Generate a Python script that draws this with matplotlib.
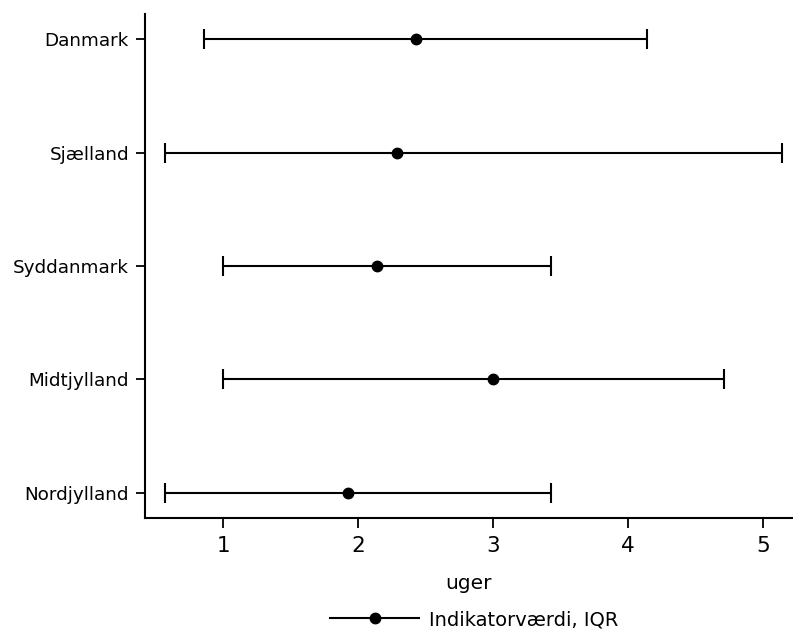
import matplotlib
matplotlib.use("Agg")
import matplotlib.pyplot as plt
from matplotlib.lines import Line2D

# Data (weeks)
regions = ["Danmark", "Sjælland", "Syddanmark", "Midtjylland", "Nordjylland"]
median = [2.43, 2.286, 2.143, 3.0, 1.929]
q1 = [0.857, 0.571, 1.0, 1.0, 0.571]
q3 = [4.143, 5.143, 3.429, 4.714, 3.429]

fig = plt.figure(figsize=(7.93, 6.34), dpi=100)
ax = fig.add_axes([0.1829, 0.1835, 0.816, 0.794])

ypos = list(range(len(regions) - 1, -1, -1))
xerr = [[m - a for m, a in zip(median, q1)], [b - m for m, b in zip(median, q3)]]
ax.errorbar(median, ypos, xerr=xerr, fmt="o", color="black", ecolor="black",
            elinewidth=1.5, capsize=7.5, capthick=1.5, markersize=7.5)

ax.set_yticks(ypos)
ax.set_yticklabels(regions, fontsize=13.2)
ax.set_xticks([1, 2, 3, 4, 5])
ax.tick_params(axis="x", labelsize=15.5, length=7.5, width=1.3, pad=6)
ax.tick_params(axis="y", length=6.5, width=1.3, pad=5)
ax.set_xlim(0.422, 5.215)
ax.set_ylim(-0.22, 4.22)
for s in ["top", "right"]:
    ax.spines[s].set_visible(False)
for s in ["left", "bottom"]:
    ax.spines[s].set_linewidth(1.5)
ax.set_xlabel("uger", fontsize=14.5, labelpad=13)

handle = Line2D([], [], color="black", marker="o", markersize=7.5, linewidth=1.5)
fig.legend([handle], ["Indikatorværdi, IQR"], loc="lower center",
           bbox_to_anchor=(0.598, -0.02), frameon=False, fontsize=14,
           handlelength=4.6, handletextpad=0.5)

fig.savefig("out.png", dpi=100)
